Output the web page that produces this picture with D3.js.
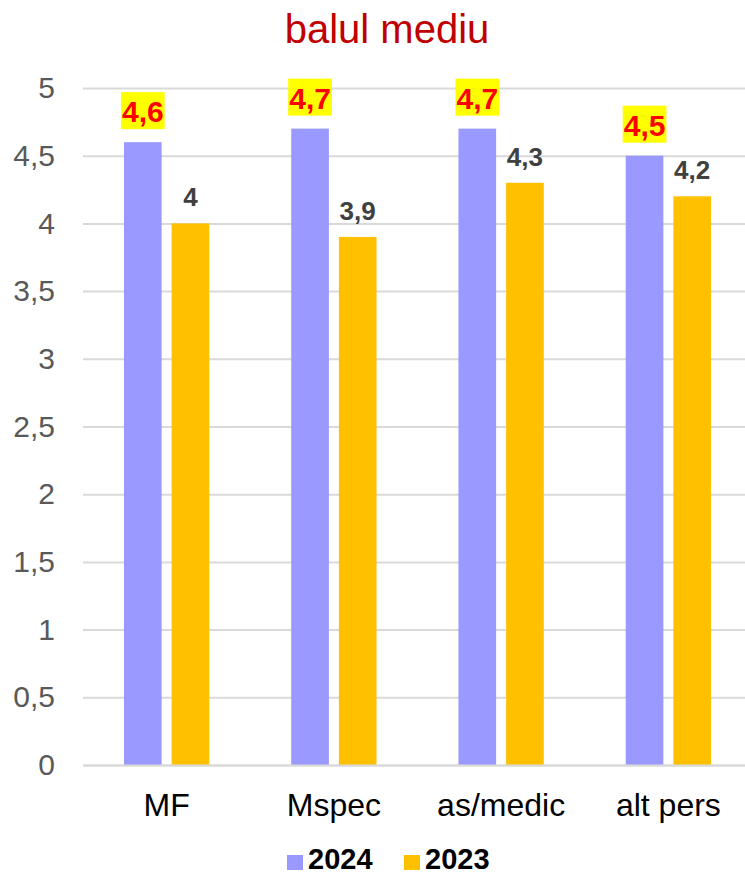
<!DOCTYPE html>
<html><head><meta charset="utf-8">
<script src="https://cdn.jsdelivr.net/npm/d3@7"></script>
<style>body{margin:0;background:#fff}svg{display:block;font-family:"Liberation Sans",Arial,sans-serif}</style>
</head><body><svg id="c" width="745" height="876"></svg>
<script>
const categories = ["MF","Mspec","as/medic","alt pers"];
const series = ["2024","2023"];
const values2024 = [4.6,4.7,4.7,4.5];
const values2023 = [4.0,3.9,4.3,4.2];
const yTicks = [0,0.5,1,1.5,2,2.5,3,3.5,4,4.5,5];
const colors = {"2024":"#9999FF","2023":"#FFC000"};

(function(){
const svg = d3.select("#c");
const pL = 83, pR = 752, pT = 88, pB = 765;
const x0 = d3.scaleBand().domain(categories).range([pL,pR]).paddingInner(0.49).paddingOuter(0.245);
const x1 = d3.scaleBand().domain(series).range([0,x0.bandwidth()]).paddingInner(0.21);
const y = d3.scaleLinear().domain([0,5]).range([pB,pT]);
const fmt = v => String(v).replace(".",",");
const ff = "Liberation Sans, Arial, sans-serif";

svg.append("text").attr("x",387).attr("y",43).attr("text-anchor","middle")
  .attr("fill","#C00000").attr("font-size",40).text("balul mediu");

const yAxis = svg.append("g").attr("transform",`translate(${pL},0)`)
  .call(d3.axisLeft(y).tickValues(yTicks).tickSize(-(pR-pL)).tickPadding(28).tickFormat(fmt));
yAxis.select(".domain").remove();
yAxis.selectAll(".tick line").attr("stroke","#D9D9D9").attr("stroke-width",2);
yAxis.selectAll(".tick text").attr("fill","#595959").attr("font-size",30).attr("font-family",ff);

const data = categories.map((c,i)=>({cat:c, vals:[{s:"2024",v:values2024[i]},{s:"2023",v:values2023[i]}]}));
const g = svg.append("g").selectAll("g").data(data).join("g")
  .attr("transform",d=>`translate(${x0(d.cat)},0)`);
g.selectAll("rect").data(d=>d.vals).join("rect")
  .attr("x",d=>x1(d.s)).attr("width",x1.bandwidth())
  .attr("y",d=>y(d.v)).attr("height",d=>y(0)-y(d.v))
  .attr("fill",d=>colors[d.s]);

g.each(function(d){
  const gg = d3.select(this);
  d.vals.forEach(o=>{
    const cx = x1(o.s)+x1.bandwidth()/2;
    if(o.s==="2024"){
      const t = gg.append("text").attr("x",cx).attr("y",y(o.v)-20).attr("text-anchor","middle")
        .attr("fill","#FF0000").attr("font-weight","bold").attr("font-size",30).text(fmt(o.v));
      const bb = t.node().getBBox();
      gg.insert("rect","text").attr("x",bb.x-1).attr("y",y(o.v)-50).attr("width",bb.width+2).attr("height",37)
        .attr("fill","#FFFF00");
    } else {
      gg.append("text").attr("x",cx).attr("y",y(o.v)-17).attr("text-anchor","middle")
        .attr("fill","#404040").attr("font-weight","bold").attr("font-size",26).text(fmt(o.v));
    }
  });
});
g.selectAll("text").raise();

svg.append("g").attr("transform",`translate(0,${pB})`)
  .call(d3.axisBottom(x0).tickSize(0).tickPadding(28))
  .call(a=>{a.select(".domain").attr("stroke","#D9D9D9").attr("stroke-width",2);
            a.selectAll("text").attr("dy",null).attr("y",51).attr("fill","#000").attr("font-size",32).attr("font-family",ff);});

const leg = svg.append("g");
const legItems = [{s:"2024",x:287},{s:"2023",x:404}];
legItems.forEach(it=>{
  leg.append("rect").attr("x",it.x).attr("y",855).attr("width",16).attr("height",15).attr("fill",colors[it.s]);
  leg.append("text").attr("x",it.x+21).attr("y",869).attr("font-size",29).attr("font-weight","bold").attr("fill","#000").text(it.s);
});
})();
</script></body></html>
